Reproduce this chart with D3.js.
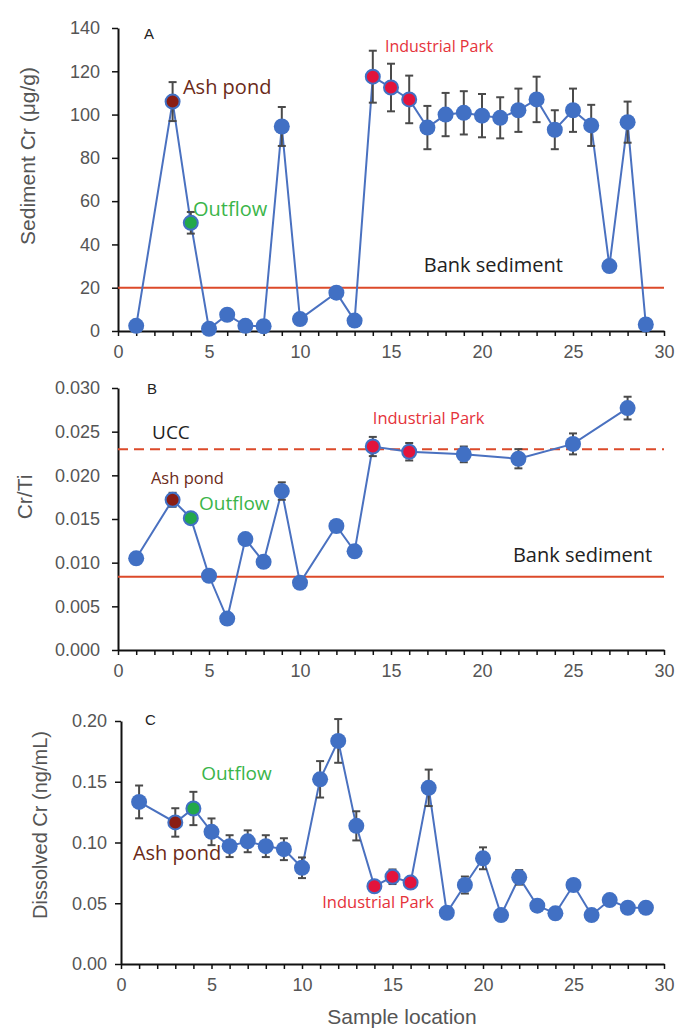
<!DOCTYPE html>
<html lang="en">
<head>
<meta charset="utf-8">
<title>Cr along the river</title>
<script src="https://d3js.org/d3.v7.min.js"></script>
<style>
  body { margin: 0; background: #fff; }
  svg { display: block; }
  .tick text { font-family: "Liberation Sans", Arial, sans-serif; font-size: 18px; fill: #555; }
  .axis path, .axis line { stroke: #111; }
  .axis path { stroke-width: 2px; }
  .axis line { stroke-width: 1.5px; }
  .note { font-family: "Open Sans", sans-serif; }
  .ylab { font-family: "Liberation Sans", Arial, sans-serif; fill: #555; }
</style>
</head>
<body>
<svg id="chart" width="679" height="1030"></svg>
<script>
// ---- data ----
// A: sediment Cr (ug/g)
var sedLoc = [1, 3, 4, 5, 6, 7, 8, 9, 10, 12, 13, 14, 15, 16, 17, 18, 19, 20, 21, 22, 23, 24, 25, 26, 27, 28, 29];
var sedCr  = [2.4, 106, 50, 1, 7.5, 2.4, 2.2, 94.5, 5.5, 17.7, 4.8, 117.5, 112.5, 107, 94, 100, 100.8, 99.5, 98.5, 102, 107, 93, 102, 95, 30, 96.5, 3];
var sedErr = [0, 9, 5, 0, 0, 0, 0, 9, 0, 0, 0, 12, 11, 11, 10, 10, 10, 10, 9.5, 10, 10.5, 9, 10, 9.5, 0, 9.5, 0];
var sedBank = 20;

// B: Cr/Ti
var ratioLoc = [1, 3, 4, 5, 6, 7, 8, 9, 10, 12, 13, 14, 16, 19, 22, 25, 28];
var ratioVal = [0.0105, 0.0172, 0.0151, 0.0085, 0.0036, 0.0127, 0.0101, 0.0182, 0.0077, 0.0142, 0.0113, 0.0233, 0.0227, 0.0224, 0.0219, 0.0236, 0.0277];
var ratioErr = [0, 0.0008, 0, 0, 0, 0, 0, 0.001, 0, 0, 0, 0.0011, 0.001, 0.0009, 0.0011, 0.0012, 0.0013];
var ratioUCC = 0.023;
var ratioBank = 0.0084;

// C: dissolved Cr (ng/mL)
var dissLoc = [1, 3, 4, 5, 6, 7, 8, 9, 10, 11, 12, 13, 14, 15, 16, 17, 18, 19, 20, 21, 22, 23, 24, 25, 26, 27, 28, 29];
var dissCr  = [0.1334, 0.1165, 0.128, 0.1088, 0.097, 0.101, 0.097, 0.0945, 0.0792, 0.152, 0.1836, 0.1137, 0.064, 0.0718, 0.067, 0.145, 0.0422, 0.065, 0.087, 0.0403, 0.0713, 0.048, 0.0417, 0.065, 0.0403, 0.0526, 0.0463, 0.0463];
var dissErr = [0.0135, 0.0117, 0.0137, 0.011, 0.009, 0.009, 0.009, 0.009, 0.0085, 0.015, 0.018, 0.012, 0.004, 0.006, 0.004, 0.015, 0, 0.007, 0.009, 0, 0.006, 0, 0, 0, 0, 0, 0, 0];

// special sites
var ashPondLoc = 3;
var outflowLoc = 4;
var industrialLoc = [14, 15, 16];

var xTicks = d3.range(0, 31);

// colours
var blue = "#4170c4";
var lineBlue = "#4a71c0";
var errGrey = "#4a4a4a";
var refRed = "#dc4a2a";
var ashCol = "#8a1d14", ashText = "#6b2a18";
var outCol = "#22a84a", outText = "#3bb54a";
var indCol = "#e3143c", indText = "#e5323a";

var svg = d3.select("#chart");

function drawPanel(p) {
  var x = d3.scaleLinear().domain([0, 30]).range([p.left, 664]);
  var y = d3.scaleLinear().domain(p.yDomain).range([p.bottom, p.top]);
  var g = svg.append("g");

  // axes
  g.append("g").attr("class", "axis")
    .attr("transform", "translate(0," + p.bottom + ")")
    .call(d3.axisBottom(x).tickValues(xTicks).tickSize(5).tickSizeOuter(0).tickPadding(9)
      .tickFormat(function (d) { return d % 5 == 0 ? d : ""; }));
  g.append("g").attr("class", "axis")
    .attr("transform", "translate(" + p.left + ",0)")
    .call(d3.axisLeft(y).tickValues(p.yTicks).tickSize(6).tickSizeOuter(0).tickPadding(p.yPad)
      .tickFormat(p.yFormat));

  // reference lines
  p.refs.forEach(function (r) {
    g.append("line")
      .attr("x1", x(0)).attr("x2", x(30))
      .attr("y1", y(r.v)).attr("y2", y(r.v))
      .attr("stroke", refRed).attr("stroke-width", 2)
      .attr("stroke-dasharray", r.dash ? "10,6" : null);
  });

  var pts = p.loc.map(function (l, i) { return {loc: l, v: p.val[i], e: p.err[i]}; });

  g.append("path").datum(pts)
    .attr("fill", "none").attr("stroke", lineBlue).attr("stroke-width", 2)
    .attr("d", d3.line().x(function (d) { return x(d.loc); }).y(function (d) { return y(d.v); }));

  // error bars
  var eb = g.selectAll(".eb").data(pts.filter(function (d) { return d.e > 0; }))
    .enter().append("g").attr("class", "eb")
    .attr("stroke", errGrey).attr("stroke-width", 2);
  eb.append("line")
    .attr("x1", function (d) { return x(d.loc); }).attr("x2", function (d) { return x(d.loc); })
    .attr("y1", function (d) { return y(d.v - d.e); }).attr("y2", function (d) { return y(d.v + d.e); });
  eb.append("line")
    .attr("x1", function (d) { return x(d.loc) - 4; }).attr("x2", function (d) { return x(d.loc) + 4; })
    .attr("y1", function (d) { return y(d.v + d.e); }).attr("y2", function (d) { return y(d.v + d.e); });
  eb.append("line")
    .attr("x1", function (d) { return x(d.loc) - 4; }).attr("x2", function (d) { return x(d.loc) + 4; })
    .attr("y1", function (d) { return y(d.v - d.e); }).attr("y2", function (d) { return y(d.v - d.e); });

  // points
  g.selectAll(".pt").data(pts).enter().append("circle")
    .attr("class", "pt")
    .attr("cx", function (d) { return x(d.loc); })
    .attr("cy", function (d) { return y(d.v); })
    .attr("r", function (d) { return special(d.loc) ? 7 : 8; })
    .attr("fill", function (d) {
      if (d.loc == ashPondLoc) return ashCol;
      if (d.loc == outflowLoc) return outCol;
      if (industrialLoc.indexOf(d.loc) >= 0) return indCol;
      return blue;
    })
    .attr("stroke", function (d) { return special(d.loc) ? blue : "none"; })
    .attr("stroke-width", 2);

  // annotations
  p.notes.forEach(function (n) {
    g.append("text").attr("class", "note")
      .attr("x", x(n.x)).attr("y", y(n.y))
      .attr("font-size", n.size).attr("fill", n.color)
      .style("font-family", n.font || null)
      .text(n.t);
  });

  // y label
  g.append("text").attr("class", "ylab")
    .attr("transform", "translate(" + p.ylabX + "," + p.ylabY + ") rotate(-90)")
    .attr("text-anchor", "middle").attr("font-size", p.ylabSize)
    .text(p.ylab);
}

function special(loc) {
  return loc == ashPondLoc || loc == outflowLoc || industrialLoc.indexOf(loc) >= 0;
}

drawPanel({
  left: 118, top: 28, bottom: 331,
  yDomain: [0, 140], yTicks: d3.range(0, 141, 20), yPad: 12,
  yFormat: d3.format("d"),
  loc: sedLoc, val: sedCr, err: sedErr,
  refs: [{v: sedBank}],
  ylab: "Sediment Cr (\u03bcg/g)", ylabX: 35, ylabY: 156, ylabSize: 21,
  notes: [
    {t: "A", x: 1.43, y: 135, size: 15, color: "#222", font: "Liberation Sans"},
    {t: "Ash pond", x: 3.57, y: 109.5, size: 20, color: ashText},
    {t: "Outflow", x: 4.12, y: 53, size: 20, color: outText},
    {t: "Industrial Park", x: 14.67, y: 129, size: 16, color: indText},
    {t: "Bank sediment", x: 16.8, y: 27.4, size: 20, color: "#222"}
  ]
});

drawPanel({
  left: 118, top: 388, bottom: 650,
  yDomain: [0, 0.03], yTicks: d3.range(0, 0.0301, 0.005), yPad: 12,
  yFormat: d3.format(".3f"),
  loc: ratioLoc, val: ratioVal, err: ratioErr,
  refs: [{v: ratioUCC, dash: true}, {v: ratioBank}],
  ylab: "Cr/Ti", ylabX: 32, ylabY: 497, ylabSize: 21,
  notes: [
    {t: "B", x: 1.6, y: 0.0293, size: 15, color: "#222", font: "Liberation Sans"},
    {t: "UCC", x: 1.87, y: 0.02416, size: 19, color: "#222"},
    {t: "Ash pond", x: 1.81, y: 0.019, size: 16.5, color: ashText},
    {t: "Outflow", x: 4.45, y: 0.016, size: 19, color: outText},
    {t: "Industrial Park", x: 14.0, y: 0.02588, size: 16.5, color: indText},
    {t: "Bank sediment", x: 21.7, y: 0.01008, size: 20, color: "#222"}
  ]
});

drawPanel({
  left: 121, top: 721, bottom: 964,
  yDomain: [0, 0.2], yTicks: d3.range(0, 0.201, 0.05), yPad: 8,
  yFormat: d3.format(".2f"),
  loc: dissLoc, val: dissCr, err: dissErr,
  refs: [],
  ylab: "Dissolved Cr (ng/mL)", ylabX: 47, ylabY: 825, ylabSize: 20,
  notes: [
    {t: "C", x: 1.33, y: 0.1965, size: 15, color: "#222", font: "Liberation Sans"},
    {t: "Outflow", x: 4.43, y: 0.1512, size: 19, color: outText},
    {t: "Ash pond", x: 0.66, y: 0.0855, size: 20, color: ashText},
    {t: "Industrial Park", x: 11.12, y: 0.046, size: 16.5, color: indText}
  ]
});

// shared x label
svg.append("text").attr("class", "ylab")
  .attr("x", 402).attr("y", 1024)
  .attr("text-anchor", "middle").attr("font-size", 21)
  .text("Sample location");
</script>
</body>
</html>
